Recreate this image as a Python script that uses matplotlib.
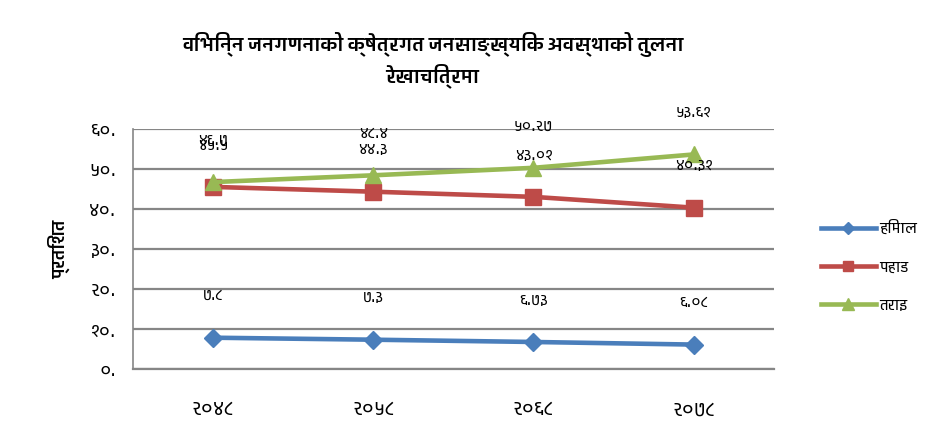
import numpy as np
import matplotlib.pyplot as plt
from matplotlib import font_manager
from matplotlib.ft2font import FT2Font

years = ['2048', '2058', '2068', '2078']
himal = [7.8, 7.3, 6.73, 6.08]
pahad = [45.5, 44.3, 43.01, 40.31]
tarai = [46.7, 48.4, 50.27, 53.61]
series_names = ['हिमाल', 'पहाड', 'तराइ']
title = 'विभिन्न जनगणनाको क्षेत्रगत जनसाङ्ख्यिक अवस्थाको तुलना\nरेखाचित्रमा'
ylabel = 'प्रतिशत'

DEV = str.maketrans('0123456789', '०१२३४५६७८९')


def find_font(ch):
    # installed family with a glyph for ch, preferring one that has a bold face
    found = {}
    for f in font_manager.fontManager.ttflist:
        try:
            if ord(ch) in FT2Font(f.fname).get_charmap():
                w = f.weight if isinstance(f.weight, int) else 400
                found[f.name] = max(found.get(f.name, 0), w)
        except Exception:
            pass
    if not found:
        return 'DejaVu Sans'
    return max(found, key=lambda n: found[n])


dev_font = find_font('क')
plt.rcParams['font.family'] = [dev_font, 'DejaVu Sans']

fig = plt.figure(figsize=(9.3, 4.34), dpi=100)
ax = fig.add_axes([0.143, 0.150, 0.689, 0.553])

x = np.arange(len(years))
colors = ['#4A7EBB', '#BE4B48', '#98B954']
markers = ['D', 's', '^']
sizes = [9, 11, 12]
for vals, name, c, m, ms in zip([himal, pahad, tarai], series_names, colors, markers, sizes):
    ax.plot(x, vals, color=c, lw=3.3, marker=m, ms=ms, label=name, zorder=3)
    for xi, v in zip(x, vals):
        ax.annotate(str(v).translate(DEV), (xi, v), xytext=(0, 24),
                    textcoords='offset points', ha='center', va='bottom',
                    fontsize=11, zorder=4)

ax.set_xlim(-0.5, len(years) - 0.5)
ax.set_ylim(0, 60)
ax.set_xticks(x)
ax.set_xticklabels([y.translate(DEV) for y in years], fontsize=14)
ax.set_yticks(np.arange(0, 61, 10))
ax.set_yticklabels([f'{v}.'.translate(DEV) for v in range(0, 61, 10)], fontsize=13)
ax.tick_params(length=0, pad=12)
ax.tick_params(axis='x', pad=22)
ax.grid(axis='y', color='#868686', lw=1.6)
ax.set_axisbelow(True)
for s in ['top', 'right']:
    ax.spines[s].set_visible(False)
ax.spines['left'].set_color('#868686')
ax.spines['bottom'].set_color('#868686')
ax.spines['left'].set_linewidth(1.2)
ax.spines['bottom'].set_linewidth(1.6)

ax.set_ylabel(ylabel, fontsize=13, fontweight='bold', labelpad=14)
fig.text(0.465, 0.862, title, ha='center', va='center', fontsize=14.5,
         fontweight='bold', linespacing=1.3)

fig.legend(loc='center left', bbox_to_anchor=(0.868, 0.385), frameon=False,
           fontsize=11, handlelength=3.6, labelspacing=1.4, handletextpad=0.2,
           markerscale=0.7)

fig.savefig('out.png', dpi=100)
